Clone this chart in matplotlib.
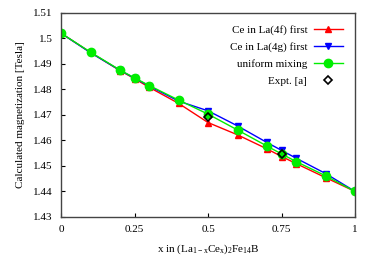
import matplotlib
matplotlib.use('Agg')
import matplotlib.pyplot as plt

plt.rcParams['font.family'] = ['Liberation Serif', 'DejaVu Serif']
plt.rcParams['mathtext.fontset'] = 'custom'
plt.rcParams['mathtext.rm'] = 'Liberation Serif'
plt.rcParams['mathtext.it'] = 'Liberation Serif'
plt.rcParams['font.size'] = 8

# 计算的点 (x 为 Ce 含量)
x_calc = [0, 0.1, 0.2, 0.25, 0.3, 0.4, 0.5, 0.6, 0.7, 0.75, 0.8, 0.9, 1.0]
m_4f = [1.502, 1.4945, 1.4874, 1.4842, 1.4808, 1.4745, 1.4670, 1.4622, 1.4567, 1.4537, 1.4509, 1.4454, 1.4400]
m_4g = [1.502, 1.4944, 1.4875, 1.4844, 1.4813, 1.4754, 1.4716, 1.4657, 1.4592, 1.4561, 1.4530, 1.4470, 1.4400]
m_uniform = [1.502, 1.4946, 1.4876, 1.4845, 1.4815, 1.4758, 1.4703, 1.4641, 1.4578, 1.4547, 1.4517, 1.4461, 1.4400]

# 实验值
x_expt = [0.5, 0.75]
m_expt = [1.4693, 1.4545]

x_ticks = [0, 0.25, 0.5, 0.75, 1]
x_tick_labels = ['0', '0.25', '0.5', '0.75', '1']
y_ticks = [1.43, 1.44, 1.45, 1.46, 1.47, 1.48, 1.49, 1.5, 1.51]
y_tick_labels = ['1.43', '1.44', '1.45', '1.46', '1.47', '1.48', '1.49', '1.5', '1.51']

fig = plt.figure(figsize=(3.75, 2.63), dpi=100)
ax = fig.add_axes([0.163, 0.175, 0.784, 0.776])

ax.plot(x_calc, m_4f, color='red', marker='^', markersize=4, linewidth=1.0, label='Ce in La(4f) first')
ax.plot(x_calc, m_4g, color='blue', marker='v', markersize=4, linewidth=1.0, label='Ce in La(4g) first')
ax.plot(x_calc, m_uniform, color='#00ee00', marker='o', markersize=6, linewidth=1.0, label='uniform mixing')
ax.plot(x_expt, m_expt, linestyle='none', marker='D', markersize=4, markerfacecolor='none',
        markeredgecolor='black', markeredgewidth=1.2, label='Expt. [a]')

ax.set_xlim(0, 1)
ax.set_ylim(1.43, 1.51)
ax.set_xticks(x_ticks)
ax.set_xticklabels(x_tick_labels)
ax.set_yticks(y_ticks)
ax.set_yticklabels(y_tick_labels)
ax.tick_params(direction='in', length=3, width=0.8, top=False, right=False, pad=6)
for s in ax.spines.values():
    s.set_color('#444444')
    s.set_linewidth(1.0)

ax.set_xlabel('x in (La$_{\\mathrm{1-x}}$Ce$_{\\mathrm{x}}$)$_{\\mathrm{2}}$Fe$_{\\mathrm{14}}$B', labelpad=6)
ax.set_ylabel('Calculated magnetization [Tesla]', labelpad=6)

ax.legend(loc='upper right', frameon=False, markerfirst=False, handlelength=2.6,
          labelspacing=0.65, borderaxespad=0.7, handletextpad=0.6)

fig.savefig('out.png', dpi=100)
